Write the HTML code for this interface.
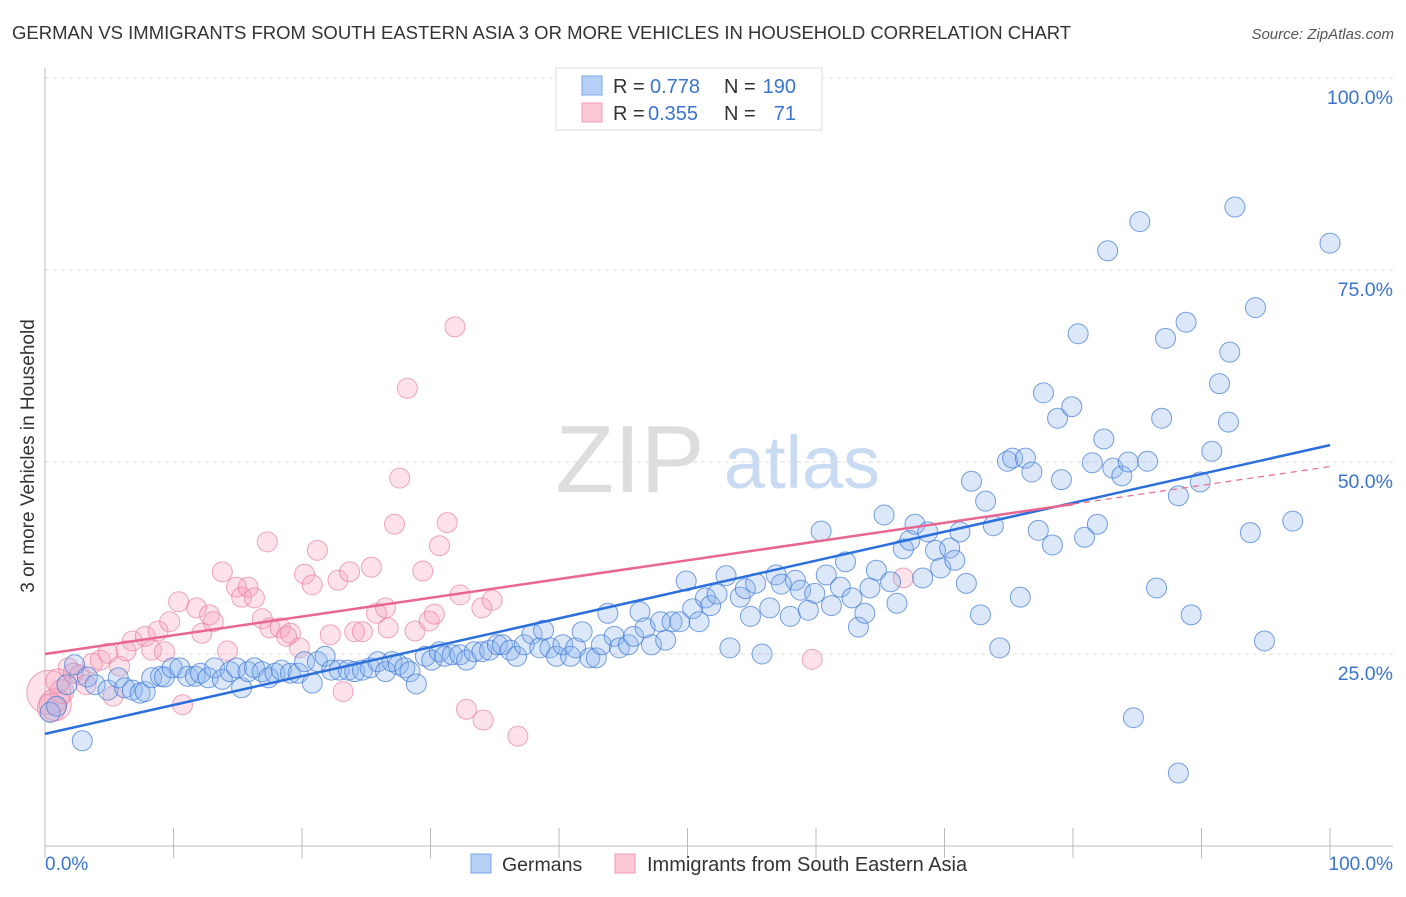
<!DOCTYPE html>
<html><head><meta charset="utf-8"><style>
body{margin:0;background:#fff;font-family:"Liberation Sans",sans-serif;}
svg text{font-family:"Liberation Sans",sans-serif;}
</style></head><body>
<svg width="1406" height="892" xmlns="http://www.w3.org/2000/svg">
<text x="12" y="39" font-size="18.5" fill="#333">GERMAN VS IMMIGRANTS FROM SOUTH EASTERN ASIA 3 OR MORE VEHICLES IN HOUSEHOLD CORRELATION CHART</text>
<text x="1394" y="39" font-size="15" fill="#555" font-style="italic" text-anchor="end">Source: ZipAtlas.com</text>
<g>
<text x="630" y="492" font-size="96" font-family="Liberation Serif" fill="#ddd" text-anchor="middle">ZIP</text>
<text x="802" y="488" font-size="74" fill="#c9dbf2" text-anchor="middle">atlas</text>
</g>
<g id="grid"></g>
<g id="axes"></g>
<g id="points"></g>
<g id="lines"></g>
<text x="34" y="456" font-size="19" fill="#333" text-anchor="middle" transform="rotate(-90 34 456)">3 or more Vehicles in Household</text>
<g>
<rect x="556" y="68" width="266" height="62" fill="#fff" stroke="#ddd"/>
<rect x="582" y="76" width="20" height="19" fill="#b5cff5" stroke="#7aa6e8"/>
<rect x="582" y="103" width="20" height="19" fill="#fbc8d6" stroke="#f09ab4"/>
<text x="613" y="93" font-size="20" fill="#333">R =</text>
<text x="650" y="93" font-size="20" fill="#3a74d0">0.778</text>
<text x="724" y="93" font-size="20" fill="#333">N =</text>
<text x="796" y="93" font-size="20" fill="#3a74d0" text-anchor="end">190</text>
<text x="613" y="120" font-size="20" fill="#333">R =</text>
<text x="648" y="120" font-size="20" fill="#3a74d0">0.355</text>
<text x="724" y="120" font-size="20" fill="#333">N =</text>
<text x="796" y="120" font-size="20" fill="#3a74d0" text-anchor="end">71</text>
</g>
<g>
<rect x="471" y="854" width="20" height="19" fill="#b5cff5" stroke="#7aa6e8"/>
<text x="502" y="871" font-size="19.5" fill="#333">Germans</text>
<rect x="615" y="854" width="20" height="19" fill="#fbc8d6" stroke="#f09ab4"/>
<text x="647" y="871" font-size="20" fill="#333">Immigrants from South Eastern Asia</text>
</g>
</svg>
<script>
const yTicks=[25,50,75,100];
const yTickLabels=["25.0%","50.0%","75.0%","100.0%"];
const xTickValues=[0,10,20,30,40,50,60,70,80,90,100];
const blueX=[0.4,0.9,1.7,2.3,2.9,3.3,3.9,4.9,5.7,6.2,6.8,7.4,7.8,8.3,9.0,9.3,9.9,10.5,11.1,11.7,12.1,12.7,13.2,13.8,14.4,14.9,15.3,15.8,16.3,16.9,17.4,17.9,18.4,19.1,19.7,20.2,20.8,21.2,21.8,22.3,22.9,23.6,24.1,24.7,25.3,25.9,26.5,27.0,27.5,28.0,28.4,28.9,29.6,30.1,30.7,31.1,31.7,32.3,32.8,33.4,34.0,34.6,35.2,35.6,36.2,36.7,37.3,37.9,38.5,38.8,39.3,39.8,40.3,40.9,41.3,41.8,42.4,42.9,43.3,43.8,44.3,44.7,45.4,45.8,46.3,46.7,47.2,47.9,48.3,48.8,49.4,49.9,50.4,50.9,51.4,51.8,52.3,53.0,53.3,54.1,54.5,54.9,55.3,55.8,56.4,56.9,57.3,58.0,58.4,58.8,59.4,59.9,60.4,60.8,61.2,61.9,62.3,62.8,63.3,63.8,64.2,64.7,65.3,65.8,66.3,66.8,67.3,67.7,68.3,68.7,69.3,69.7,70.4,70.8,71.2,71.7,72.1,72.8,73.2,73.8,74.3,74.9,75.3,75.9,76.3,76.8,77.3,77.7,78.4,78.8,79.1,79.9,80.4,80.9,81.5,81.9,82.4,82.7,83.1,83.8,84.3,84.7,85.2,85.8,86.5,86.9,87.2,88.2,88.2,88.8,89.2,89.9,90.8,91.4,92.1,92.2,92.6,93.8,94.2,94.9,97.1,100];
const blueY=[17.4,18.2,21.0,23.6,13.7,22.0,21.0,20.3,21.9,20.6,20.3,19.9,20.1,21.9,22.1,22.0,23.2,23.2,22.1,22.1,22.5,21.9,23.2,21.7,22.7,23.2,20.6,22.7,23.2,22.7,21.9,22.5,22.9,22.5,22.5,24.0,21.2,24.0,24.7,22.9,22.9,22.9,22.7,22.9,23.2,24.0,22.7,24.0,23.6,23.2,22.7,21.1,24.7,24.2,25.3,24.7,24.9,24.9,24.2,25.3,25.3,25.5,26.2,26.2,25.5,24.7,26.2,27.6,25.8,28.1,25.8,24.7,26.2,24.7,25.8,27.9,24.5,24.5,26.2,30.3,27.3,25.8,26.2,27.3,30.5,28.4,26.2,29.2,26.8,29.2,29.2,34.5,30.9,29.2,32.3,31.3,32.8,35.2,25.8,32.4,33.5,29.9,34.2,25.0,31.0,35.3,34.1,29.9,34.6,33.3,30.7,32.9,41.0,35.3,31.3,33.7,37.0,32.3,28.5,30.3,33.6,35.9,43.1,34.4,31.6,38.7,39.8,41.9,34.9,40.9,38.5,36.2,38.8,37.2,40.9,34.2,47.5,30.1,44.9,41.7,25.8,50.1,50.5,32.4,50.5,48.7,41.1,59.0,39.2,55.7,47.7,57.2,66.7,40.2,49.9,41.9,53.0,77.5,49.2,48.2,50.0,16.7,81.3,50.1,33.6,55.7,66.1,45.6,9.5,68.2,30.1,47.4,51.4,60.2,55.2,64.3,83.2,40.8,70.1,26.7,42.3,78.5];
const pinkX=[0.3,0.8,1.3,1.8,2.7,3.7,4.3,4.9,5.3,5.8,6.3,6.8,7.8,8.3,8.8,9.3,9.7,10.4,10.7,11.8,12.2,12.8,13.1,13.8,14.2,14.9,15.3,15.8,16.3,16.9,17.3,17.5,18.3,18.8,19.1,19.8,20.2,20.8,21.2,22.2,22.8,23.2,23.7,24.1,24.7,25.4,25.8,26.5,26.7,27.2,27.6,28.2,28.8,29.4,29.9,30.3,30.7,31.3,31.9,32.3,32.8,34.0,34.1,34.8,36.8,59.7,66.8,0.5,1.0,2.2,3.2];
const pinkY=[20.0,18.4,20.1,23.2,22.3,23.8,24.2,25.1,19.5,23.4,25.4,26.7,27.3,25.5,28.0,25.3,29.2,31.8,18.4,31.0,27.7,30.1,29.2,35.7,25.4,33.7,32.4,33.7,32.3,29.6,39.6,28.4,28.4,27.3,27.7,25.8,35.4,34.0,38.5,27.5,34.6,20.1,35.7,27.9,27.9,36.3,30.3,31.0,28.4,41.9,47.9,59.6,28.0,35.8,29.3,30.2,39.1,42.1,67.6,32.7,17.8,31.0,16.4,32.0,14.3,24.3,34.9,18.0,21.5,22.5,21.0];
const pinkR=[22,16,12,10,10,10,10,10,10,10,10,10,10,10,10,10,10,10,10,10,10,10,10,10,10,10,10,10,10,10,10,10,10,10,10,10,10,10,10,10,10,10,10,10,10,10,10,10,10,10,10,10,10,10,10,10,10,10,10,10,10,10,10,10,10,10,10,14,12,10,10];
const blueTrend=[14.6,52.2];
const pinkTrend=[25.0,49.4];
const pinkSolidEnd=80;

const X0=45,X1=1330,Y0=846,YSC=7.68;
const sx=v=>X0+(X1-X0)*v/100, sy=v=>Y0-v*YSC;
const NS="http://www.w3.org/2000/svg";
function mk(tag,attrs,parent){const e=document.createElementNS(NS,tag);for(const k in attrs)e.setAttribute(k,attrs[k]);document.getElementById(parent).appendChild(e);return e;}
yTicks.forEach((t,i)=>{
  const g=mk('line',{x1:45,x2:1393,y1:sy(t),y2:sy(t),stroke:'#ddd','stroke-dasharray':'4,4'},'grid');
  
  
  const l=mk('text',{x:1393,y:sy(t)+26,'font-size':19.5,fill:'#3a74d0','text-anchor':'end'},'grid');
  l.textContent=yTickLabels[i];
  
  
});
const ax=mk('line',{x1:45,x2:45,y1:68,y2:846,stroke:'#bbb'},'axes');


const bx=mk('line',{x1:45,x2:1393,y1:846,y2:846,stroke:'#bbb'},'axes');


xTickValues.forEach(v=>{
  const t=mk('line',{x1:sx(v),x2:sx(v),y1:828,y2:858,stroke:'#bbb'},'axes');
  
  
});
const xl0=mk('text',{x:45,y:870,'font-size':19,fill:'#3a74d0'},'axes');xl0.textContent='0.0%';


const xl1=mk('text',{x:1393,y:870,'font-size':19,fill:'#3a74d0','text-anchor':'end'},'axes');xl1.textContent='100.0%';


pinkX.forEach((x,i)=>{
  const c=mk('circle',{cx:sx(x),cy:sy(pinkY[i]),r:pinkR[i],fill:'rgba(247,160,185,0.3)',stroke:'rgba(232,120,155,0.65)','stroke-width':1},'points');
  
  
});
blueX.forEach((x,i)=>{
  const c=mk('circle',{cx:sx(x),cy:sy(blueY[i]),r:10,fill:'rgba(140,180,240,0.3)',stroke:'rgba(60,120,215,0.7)','stroke-width':1},'points');
  
  
});
const bl=mk('line',{x1:sx(0),y1:sy(blueTrend[0]),x2:sx(100),y2:sy(blueTrend[1]),stroke:'#2a6fdb','stroke-width':2.5},'lines');


const pm=pinkTrend[0]+(pinkTrend[1]-pinkTrend[0])*pinkSolidEnd/100;
const pl=mk('line',{x1:sx(0),y1:sy(pinkTrend[0]),x2:sx(pinkSolidEnd),y2:sy(pm),stroke:'#e8668f','stroke-width':2.5},'lines');


const pd=mk('line',{x1:sx(pinkSolidEnd),y1:sy(pm),x2:sx(100),y2:sy(pinkTrend[1]),stroke:'#e8668f','stroke-width':1.2,'stroke-dasharray':'6,5'},'lines');


</script>
</body></html>
